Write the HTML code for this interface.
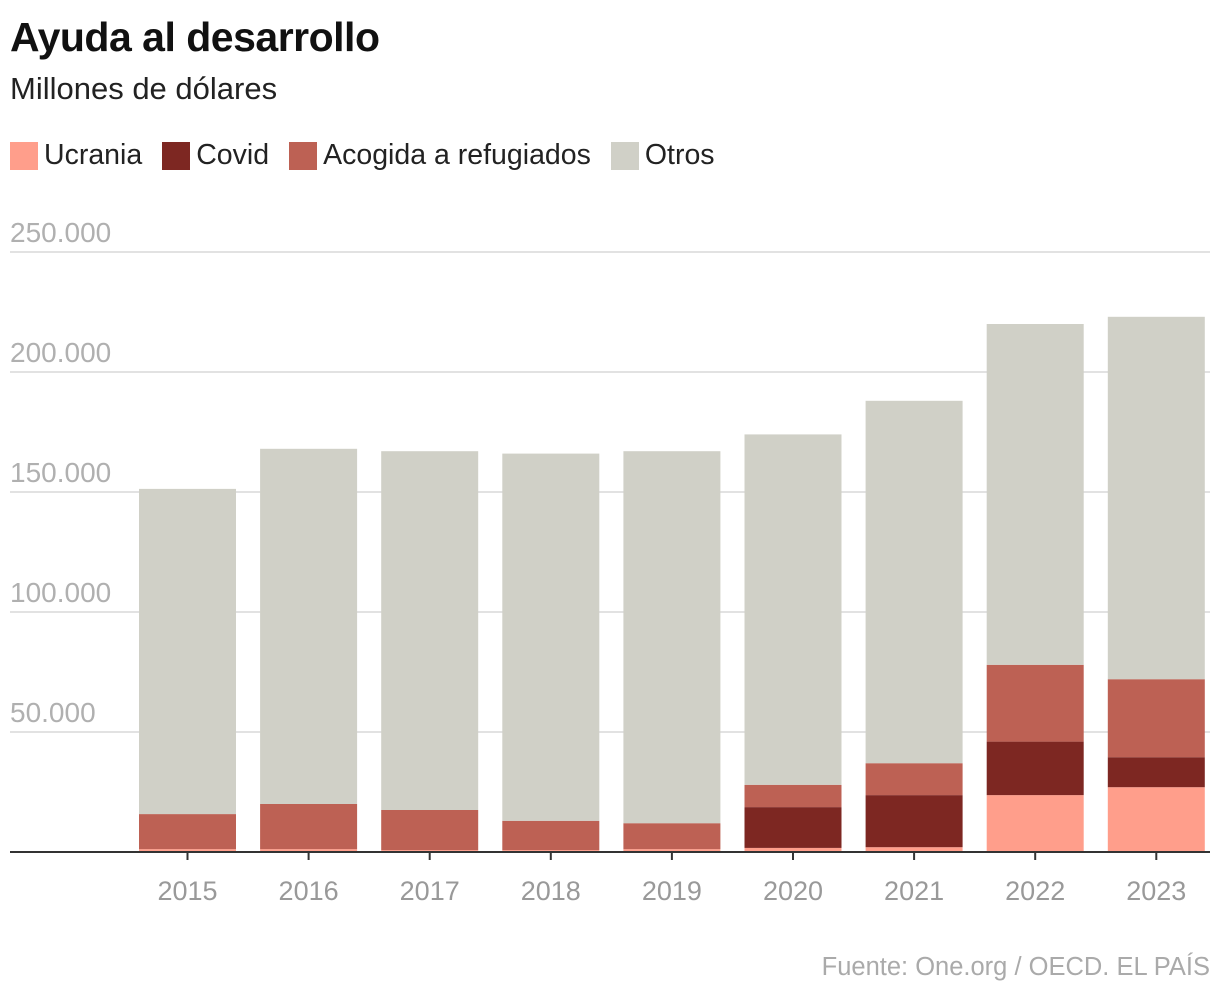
<!DOCTYPE html>
<html><head><meta charset="utf-8"><style>
body{margin:0;background:#fff;width:1220px;height:998px;overflow:hidden;font-family:"Liberation Sans",sans-serif;}
.t{position:absolute;left:10px;top:14px;font-size:41px;font-weight:bold;color:#111;letter-spacing:-0.5px}
.s{position:absolute;left:10px;top:71px;font-size:31px;color:#222}
.lg{position:absolute;top:139px;left:10px;display:flex;font-size:28.5px;color:#222;align-items:center}
.lg span.sw{display:inline-block;width:28px;height:28px;margin-right:6px}
.lg div{display:flex;align-items:center;margin-right:20px}
.src{position:absolute;right:10px;top:953px;font-size:25.5px;color:#aaa}
svg{position:absolute;left:0;top:0}
</style></head><body>
<div class="t">Ayuda al desarrollo</div>
<div class="s">Millones de dólares</div>
<div class="lg">
<div><span class="sw" style="background:#ff9e8b"></span>Ucrania</div>
<div><span class="sw" style="background:#7d2722"></span>Covid</div>
<div><span class="sw" style="background:#bd6154"></span>Acogida a refugiados</div>
<div><span class="sw" style="background:#d0d0c7"></span>Otros</div>
</div>
<svg id="c" width="1220" height="998"></svg>
<div class="src">Fuente: One.org / OECD. EL PAÍS</div>
<script>
const years=["2015","2016","2017","2018","2019","2020","2021","2022","2023"];
const ucrania=[1.2,1.2,0.8,0.8,1.2,1.7,2,23.7,27];
const covid=[0,0,0,0,0,17,21.7,22.3,12.5];
const acogida=[14.6,18.8,16.7,12.2,10.8,9.3,13.3,32,32.5];
const otros=[135.5,148,149.5,153,155,146,151,142,151];
const yTicks=[50000,100000,150000,200000,250000];
const yTickLabels=["50.000","100.000","150.000","200.000","250.000"];
const colors=["#ff9e8b","#7d2722","#bd6154","#d0d0c7"];
const series=[ucrania,covid,acogida,otros];
const sNames=["ucrania","covid","acogida","otros"];
const NS="http://www.w3.org/2000/svg",svg=document.getElementById('c');
const y0=852,pxPer=480/200000;
const y=v=>y0-v*pxPer;
const x=i=>139+i*121.1;
const bw=97;
function mk(t,a){const e=document.createElementNS(NS,t);for(const k in a)e.setAttribute(k,a[k]);svg.appendChild(e);return e;}
yTicks.forEach((v,i)=>{
 const g=mk('line',{x1:10,x2:1210,y1:y(v),y2:y(v),stroke:'#e2e2e2','stroke-width':2});
 
 
 const t=mk('text',{x:10,y:y(v)-10,fill:'#b0b0b0','font-size':28,'font-family':'Liberation Sans, sans-serif'});
 t.textContent=yTickLabels[i];
 
 
});
years.forEach((yr,i)=>{
 let base=0;
 series.forEach((s,k)=>{
  const v=s[i]*1000;
  if(v>0){const r=mk('rect',{x:x(i),y:y(base+v),width:bw,height:v*pxPer,fill:colors[k]});
  
  }
  base+=v;
 });
 const tk=mk('line',{x1:x(i)+bw/2,x2:x(i)+bw/2,y1:y0,y2:y0+8,stroke:'#333','stroke-width':2});
 
 
 const t=mk('text',{x:x(i)+bw/2,y:900,'text-anchor':'middle',fill:'#999','font-size':27,'font-family':'Liberation Sans, sans-serif'});
 t.textContent=yr;
 
 
});
const ax=mk('line',{x1:10,x2:1210,y1:y0,y2:y0,stroke:'#333','stroke-width':2});


</script>
</body></html>
